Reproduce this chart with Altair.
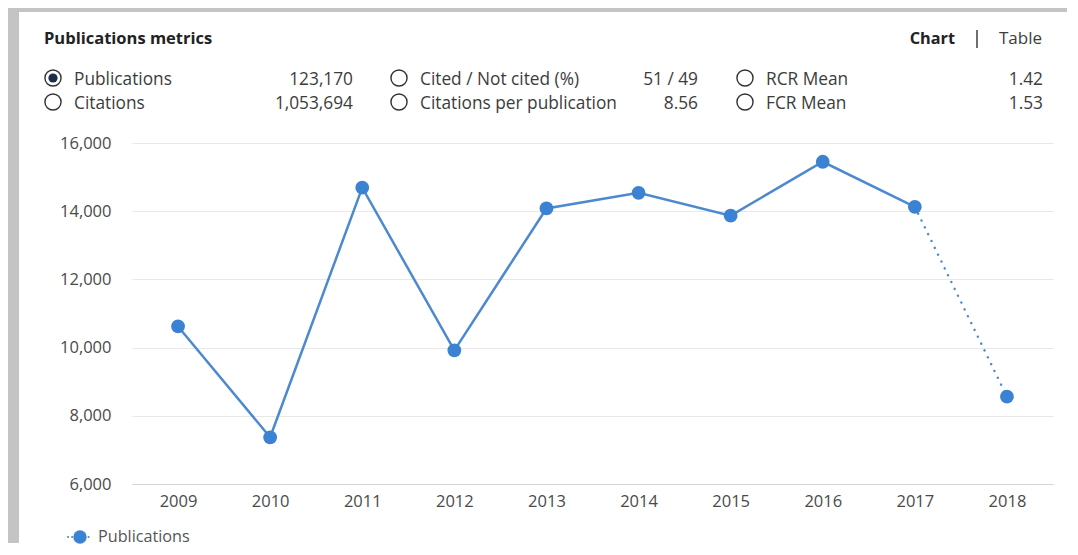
import altair as alt
import pandas as pd

# ---- data ----
years = ["2009", "2010", "2011", "2012", "2013", "2014", "2015", "2016", "2017", "2018"]
publications = [10620, 7370, 14690, 9920, 14080, 14540, 13870, 15450, 14130, 8560]

metric_labels = ["Publications", "Citations", "Cited / Not cited (%)",
                 "Citations per publication", "RCR Mean", "FCR Mean"]
metric_values = ["123,170", "1,053,694", "51 / 49", "8.56", "1.42", "1.53"]
selected_metric = "Publications"

y_ticks = [6000, 8000, 10000, 12000, 14000, 16000]

FONT = "Open Sans"
TXT = "#3c3c3c"
BLUE = "#3b82d2"
LINE = "#4d89cf"

W, H = 921, 341

df = pd.DataFrame({"year": years, "value": publications})
solid_df = df.iloc[:-1]
dotted_df = df.iloc[-2:]

x_enc = alt.X("year:O", scale=alt.Scale(type="point", padding=0.5),
              axis=alt.Axis(title=None, labelAngle=0, ticks=False, domain=True,
                            domainColor="#d5d5d5", labelFont=FONT, labelFontSize=16.5,
                            labelColor="#4a4a4a", labelPadding=9, grid=False))
y_enc = alt.Y("value:Q", scale=alt.Scale(domain=[6000, 16000], nice=False, zero=False),
              axis=alt.Axis(title=None, values=y_ticks, format=",d", ticks=False, domain=False,
                            labelFont=FONT, labelFontSize=16.5, labelColor="#4a4a4a",
                            labelPadding=21, gridColor="#e8e8e8", gridWidth=1))

solid = alt.Chart(solid_df).mark_line(color=LINE, strokeWidth=2.5).encode(x=x_enc, y=y_enc)
dotted = alt.Chart(dotted_df).mark_line(color=LINE, strokeWidth=2.4, strokeDash=[0.1, 7.5],
                                        strokeCap="round").encode(x=x_enc, y=y_enc)
points = alt.Chart(df).mark_circle(color=BLUE, opacity=1, size=190).encode(x=x_enc, y=y_enc)

# ---- header (metric radio list) ----
rows = []
for i, (lab, val) in enumerate(zip(metric_labels, metric_values)):
    col, row = i // 2, i % 2
    cx = -79 + col * 346
    rows.append({"label": lab, "val": val, "cx": cx, "lx": cx + 21,
                 "vx": 221 + col * 345, "y": -65 + row * 24,
                 "sel": lab == selected_metric})
hdr = pd.DataFrame(rows)

px = lambda f: alt.X(f, scale=None, axis=None)
py = lambda f: alt.Y(f, scale=None, axis=None)

radios = alt.Chart(hdr).mark_point(shape="circle", filled=False, size=260,
                                    strokeWidth=1.4, color="#333333", opacity=1).encode(
    x=px("cx:Q"), y=py("y:Q"))
radio_dot = alt.Chart(hdr[hdr["sel"]]).mark_circle(size=85, color="#1c2e4a", opacity=1).encode(
    x=px("cx:Q"), y=py("y:Q"))
labels = alt.Chart(hdr).mark_text(align="left", baseline="middle", font=FONT, fontSize=17.3,
                                  dy=1.5, color=TXT).encode(x=px("lx:Q"), y=py("y:Q"), text="label:N")
values = alt.Chart(hdr).mark_text(align="right", baseline="middle", font=FONT, fontSize=17.3,
                                  dy=1.5, color=TXT).encode(x=px("vx:Q"), y=py("y:Q"), text="val:N")

title = alt.Chart(pd.DataFrame({"t": ["Publications metrics"]})).mark_text(
    align="left", baseline="middle", font=FONT, fontSize=16.5, fontWeight="bold", color="#222222"
).encode(x=alt.value(-88), y=alt.value(-104), text="t:N")
chart_lbl = alt.Chart(pd.DataFrame({"t": ["Chart"]})).mark_text(
    align="right", baseline="middle", font=FONT, fontSize=16.3, fontWeight="bold", color="#222222"
).encode(x=alt.value(823), y=alt.value(-104), text="t:N")
sep = alt.Chart(pd.DataFrame({"a": [0]})).mark_rule(color="#222222", strokeWidth=1.3).encode(
    x=alt.value(845), y=alt.value(-113), y2=alt.value(-95))
table_lbl = alt.Chart(pd.DataFrame({"t": ["Table"]})).mark_text(
    align="left", baseline="middle", font=FONT, fontSize=17, color=TXT
).encode(x=alt.value(867), y=alt.value(-104), text="t:N")

# ---- legend ----
leg_line = alt.Chart(pd.DataFrame({"a": [0]})).mark_rule(
    color=LINE, strokeWidth=2, strokeDash=[0.1, 4], strokeCap="round"
).encode(x=alt.value(-64), x2=alt.value(-40), y=alt.value(394))
leg_pt = alt.Chart(pd.DataFrame({"a": [0]})).mark_circle(color=BLUE, size=180, opacity=1).encode(
    x=alt.value(-52), y=alt.value(394))
leg_txt = alt.Chart(pd.DataFrame({"t": ["Publications"]})).mark_text(
    align="left", baseline="middle", font=FONT, fontSize=16.2, color="#555555"
).encode(x=alt.value(-34), y=alt.value(394), text="t:N")

# ---- card frame shading ----
frame_left = alt.Chart(pd.DataFrame({"a": [0]})).mark_rect(color="#c4c4c4").encode(
    x=alt.value(-124), x2=alt.value(-113), y=alt.value(-135), y2=alt.value(400))
frame_top = alt.Chart(pd.DataFrame({"a": [0]})).mark_rect(color="#c4c4c4").encode(
    x=alt.value(-124), x2=alt.value(938), y=alt.value(-135), y2=alt.value(-131))

chart = alt.layer(
    frame_left, frame_top,
    solid, dotted, points,
    radios, radio_dot, labels, values,
    title, chart_lbl, sep, table_lbl,
    leg_line, leg_pt, leg_txt,
).properties(
    width=W, height=H,
    autosize=alt.AutoSizeParams(type="none"),
    padding={"left": 124, "top": 135, "right": 14, "bottom": 63},
    background="white",
).configure_view(stroke=None)

chart.save("out.html", embed_options={"renderer": "svg", "actions": False})
